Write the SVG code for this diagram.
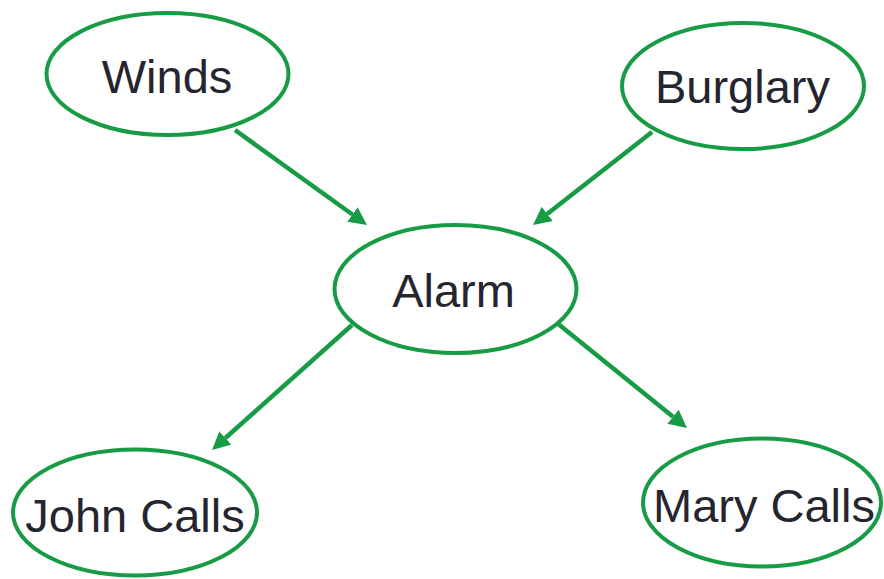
<svg xmlns="http://www.w3.org/2000/svg" width="884" height="579" viewBox="0 0 884 579">
<defs>
<style>
.node ellipse{fill:#fff;stroke:#179c45;stroke-width:4}
.node text{font-family:"Liberation Sans",Arial,sans-serif;font-size:47px;fill:#25252f;text-anchor:middle}
.edges line{stroke:#179c45;stroke-width:4.5;marker-end:url(#arr)}
</style>
<marker id="arr" markerUnits="userSpaceOnUse" markerWidth="19" markerHeight="18" refX="0" refY="9" orient="auto">
<path d="M0,0 L18,9 L0,18 z" fill="#179c45"/>
</marker>
</defs>
<rect width="884" height="579" fill="#fff"/>
<g class="edges" id="edges">
<line x1="235" y1="130" x2="352.4" y2="214.5"/>
<line x1="652" y1="132" x2="547.2" y2="213.9"/>
<line x1="352" y1="325" x2="225.4" y2="438.0"/>
<line x1="557" y1="323" x2="673.0" y2="416.7"/>
</g>
<g class="node" id="winds"><ellipse cx="167.5" cy="74" rx="121" ry="61"/><text x="167" y="93">Winds</text></g>
<g class="node" id="burglary"><ellipse cx="743" cy="86" rx="121" ry="63"/><text x="742.5" y="103">Burglary</text></g>
<g class="node" id="alarm"><ellipse cx="455.5" cy="289" rx="121" ry="64"/><text x="453.5" y="306.5">Alarm</text></g>
<g class="node" id="john"><ellipse cx="135" cy="512.5" rx="122" ry="63"/><text x="135" y="531.5">John Calls</text></g>
<g class="node" id="mary"><ellipse cx="762" cy="502.5" rx="119" ry="64"/><text x="764" y="521.5">Mary Calls</text></g>
</svg>
